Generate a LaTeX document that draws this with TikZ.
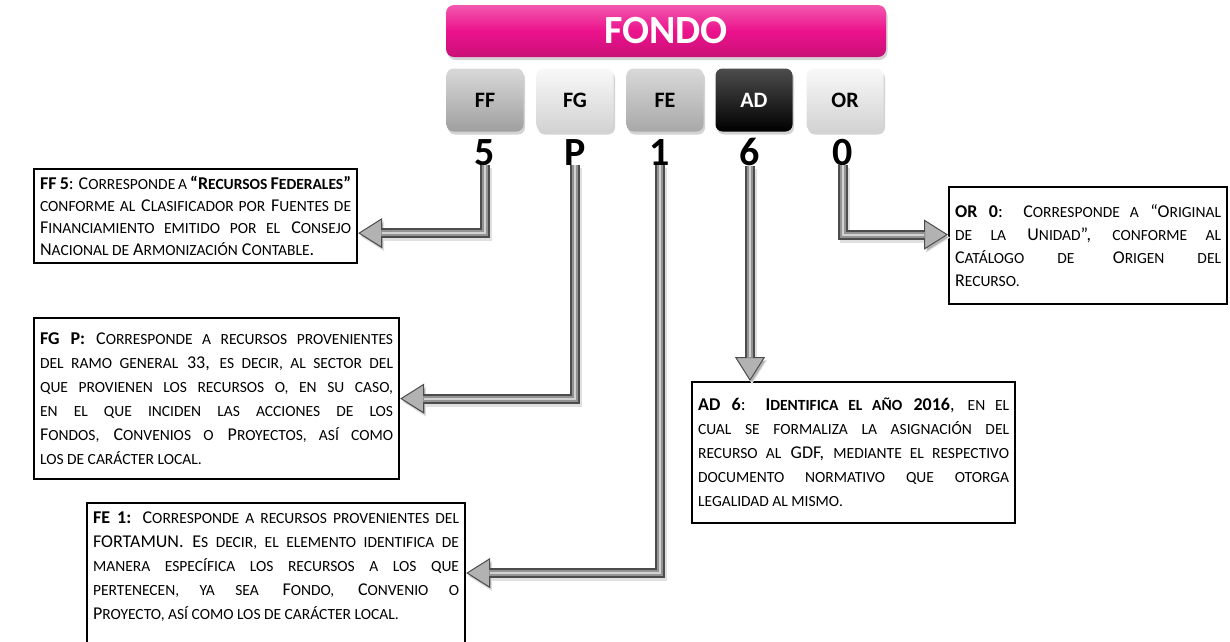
\documentclass[tikz,border=0pt]{standalone}
\usepackage{fontspec}
\setmainfont{Carlito}
\usetikzlibrary{arrows.meta,shadows}

\definecolor{fondopink}{RGB}{236,18,140}
\newcommand{\smc}[1]{{\fontsize{15.5}{15.5}\selectfont #1}}

\tikzset{
  infobox/.style={draw, line width=2.2pt, anchor=north west, align=justify,
    inner xsep=6pt, inner ysep=6pt, fill=white},
  keybtn/.style 2 args={rounded corners=7pt, minimum width=77pt, minimum height=63pt,
    font=\fontsize{22}{22}\selectfont\bfseries, top color=#1, bottom color=#2,
    drop shadow={opacity=.35, shadow xshift=1.5pt, shadow yshift=-3pt}},
  digit/.style={inner sep=0pt, anchor=base, font=\fontsize{40}{40}\selectfont\bfseries},
  pipe/.style={line width=10pt, draw=gray!60!black,
    -{Triangle[width=30pt,length=24pt,line width=1pt,fill=gray!60]},
    preaction={draw=black!12, line width=10pt, transform canvas={shift={(2pt,-3pt)}}},
    postaction={draw=gray!85, line width=6pt, -, shorten >=23pt},
    postaction={draw=gray!35, line width=2pt, -, shorten >=24pt}}
}

\begin{document}
\begin{tikzpicture}[x=1pt, y=-1pt]
  \useasboundingbox (0,0) rectangle (1230,641);

  % cabecera
  \node[rounded corners=8pt, minimum width=440pt, minimum height=52pt,
        top color=fondopink!70!white, bottom color=fondopink!85!black, middle color=fondopink,
        drop shadow={opacity=.35, shadow xshift=1.5pt, shadow yshift=-3pt},
        text=white, font=\fontsize{40}{40}\selectfont\bfseries] (fondo) at (666,31) {FONDO};

  % claves
  \node[keybtn={gray!30}{gray!75}] (ffkey) at (485,100) {FF};
  \node[keybtn={gray!5}{gray!35}] (fgkey) at (575,100) {FG};
  \node[keybtn={gray!30}{gray!68}] (fekey) at (665,100) {FE};
  \node[keybtn={gray!60!black}{black}, text=white] (adkey) at (754,100) {AD};
  \node[keybtn={gray!5}{gray!35}] (orkey) at (845,100) {OR};

  \node[digit] (d5) at (485,165) {5};
  \node[digit] (dP) at (575,165) {P};
  \node[digit] (d1) at (660,165) {1};
  \node[digit] (d6) at (750,165) {6};
  \node[digit] (d0) at (843,165) {0};

  % cuadros de texto
  \node[infobox, text width=311pt, minimum height=94pt, font=\fontsize{18}{22}\selectfont] (ffbox) at (33,168) {%
    \textbf{FF 5}: C\smc{ORRESPONDE A} \textbf{“R\smc{ECURSOS} F\smc{EDERALES}”}\linebreak
    \smc{CONFORME AL} C\smc{LASIFICADOR POR} F\smc{UENTES DE}\linebreak
    F\smc{INANCIAMIENTO EMITIDO POR EL} C\smc{ONSEJO}\linebreak
    N\smc{ACIONAL DE} A\smc{RMONIZACIÓN} C\smc{ONTABLE}.};

  \node[infobox, text width=353pt, minimum height=161pt, font=\fontsize{18}{24}\selectfont] (fgbox) at (33,317) {%
    \textbf{FG P:} C\smc{ORRESPONDE A RECURSOS PROVENIENTES}\linebreak
    \smc{DEL RAMO GENERAL} 33, \smc{ES DECIR, AL SECTOR DEL}\linebreak
    \smc{QUE PROVIENEN LOS RECURSOS O, EN SU CASO,}\linebreak
    \smc{EN EL QUE INCIDEN LAS ACCIONES DE LOS}\linebreak
    F\smc{ONDOS,} C\smc{ONVENIOS O} P\smc{ROYECTOS, ASÍ COMO}\linebreak
    \smc{LOS DE CARÁCTER LOCAL.}};

  \node[infobox, text width=366pt, text depth=160pt, inner ysep=9pt, font=\fontsize{18}{24}\selectfont] (febox) at (86,502) {%
    \textbf{FE 1:} C\smc{ORRESPONDE A RECURSOS PROVENIENTES DEL}\linebreak
    FORTAMUN. E\smc{S DECIR, EL ELEMENTO IDENTIFICA DE}\linebreak
    \smc{MANERA ESPECÍFICA LOS RECURSOS A LOS QUE}\linebreak
    \smc{PERTENECEN, YA SEA} F\smc{ONDO,} C\smc{ONVENIO O}\linebreak
    P\smc{ROYECTO, ASÍ COMO LOS DE CARÁCTER LOCAL.}};

  \node[infobox, text width=311pt, minimum height=141pt, font=\fontsize{18}{24}\selectfont] (adbox) at (691,381) {%
    \textbf{AD 6}: \textbf{I\smc{DENTIFICA EL AÑO} 2016}, \smc{EN EL}\linebreak
    \smc{CUAL SE FORMALIZA LA ASIGNACIÓN DEL}\linebreak
    \smc{RECURSO AL} GDF, \smc{MEDIANTE EL RESPECTIVO}\linebreak
    \smc{DOCUMENTO NORMATIVO QUE OTORGA}\linebreak
    \smc{LEGALIDAD AL MISMO.}};

  \node[infobox, text width=266pt, minimum height=117pt, font=\fontsize{18}{23}\selectfont] (orbox) at (948,186) {%
    \textbf{OR 0}: C\smc{ORRESPONDE A} “O\smc{RIGINAL}\linebreak
    \smc{DE LA} U\smc{NIDAD}”, \smc{CONFORME AL}\linebreak
    C\smc{ATÁLOGO DE} O\smc{RIGEN DEL}\linebreak
    R\smc{ECURSO.}};

  % flechas
  \draw[pipe] (d5.south) |- ([yshift=-17pt]ffbox.east);
  \draw[pipe] (dP.south) |- (fgbox.east);
  \draw[pipe] (d1.south) |- ([yshift=-71pt]febox.north east);
  \draw[pipe] (d6.south) -- (d6.south |- adbox.north);
  \draw[pipe] (d0.south) |- ([yshift=11pt]orbox.west);
\end{tikzpicture}
\end{document}
